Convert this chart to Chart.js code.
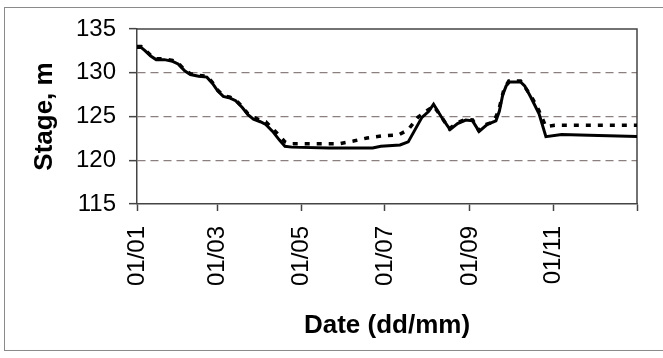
<!DOCTYPE html>
<html>
<head>
<meta charset="utf-8">
<script src="https://cdn.jsdelivr.net/npm/chart.js@4/dist/chart.umd.min.js"></script>
<style>
  html, body { margin: 0; padding: 0; background: #fff; }
  #wrap { position: relative; width: 663px; height: 358px; }
  #frame { position: absolute; left: 4px; top: 7px; width: 665px; height: 344px; border: 1.5px solid #8a8a8a; box-sizing: border-box; }
  canvas { position: absolute; left: 0; top: 0; }
</style>
</head>
<body>
<div id="wrap">
  <div id="frame"></div>
  <canvas id="chart" width="663" height="358"></canvas>
</div>
<script>
// day of year -> stage (m)
const obsDays = [0, 3, 6, 10, 14, 20, 26, 30, 35, 39, 45, 51, 55, 59, 63, 68, 72, 77, 81, 85, 90, 94, 99, 104, 108, 113, 140, 172, 178, 192, 198, 203, 208, 213, 216.5, 222, 228.5, 234, 240, 245, 249.7, 255.8, 262, 264.5, 267, 269.5, 272, 280, 283, 287.5, 293.5, 298.5, 310, 330, 365];
const obsStage = [132.9, 132.9, 132.5, 131.9, 131.5, 131.5, 131.3, 131.0, 130.2, 129.8, 129.6, 129.5, 128.8, 127.9, 127.3, 127.1, 126.8, 126.0, 125.2, 124.7, 124.4, 124.1, 123.3, 122.3, 121.6, 121.5, 121.4, 121.4, 121.6, 121.75, 122.1, 123.5, 124.9, 125.6, 126.4, 125.0, 123.5, 124.2, 124.6, 124.5, 123.3, 124.1, 124.5, 125.6, 127.5, 128.5, 128.95, 128.95, 128.5, 127.2, 125.3, 122.7, 122.95, 122.85, 122.7];

const simDays = [0, 3, 6, 10, 14, 20, 26, 30, 35, 39, 45, 51, 55, 59, 63, 68, 72, 77, 81, 85, 90, 94, 99, 104, 108, 111, 148, 158, 168, 180, 191, 198, 205, 211, 216.5, 222, 228, 234, 240, 245, 249.5, 255, 260.5, 264, 268, 271.4, 280, 287.5, 293.3, 298.5, 305, 365];
const simStage = [133.0, 133.0, 132.6, 132.0, 131.6, 131.6, 131.4, 131.1, 130.3, 129.9, 129.7, 129.6, 128.9, 128.0, 127.4, 127.2, 126.9, 126.1, 125.3, 124.9, 124.6, 124.4, 123.6, 122.8, 122.1, 121.9, 121.9, 122.2, 122.55, 122.8, 122.9, 123.5, 124.9, 125.6, 126.2, 125.0, 123.6, 124.3, 124.7, 124.6, 123.4, 124.1, 124.4, 125.7, 128.2, 129.05, 129.05, 127.4, 125.7, 123.85, 124.0, 124.0];

const tickDays = [0, 59, 120, 181, 243, 304, 365];
const tickLabels = ['01/01', '01/03', '01/05', '01/07', '01/09', '01/11', ''];
const yTicks = [115, 120, 125, 130, 135];

const toPoints = (xs, ys) => xs.map((x, i) => ({ x: x, y: ys[i] }));

// plot area frame (top and right edges)
const plotFrame = {
  id: 'plotFrame',
  beforeDatasetsDraw(chart) {
    const { ctx, chartArea: a } = chart;
    ctx.save();
    ctx.strokeStyle = '#444';
    ctx.lineWidth = 1.5;
    ctx.beginPath();
    ctx.moveTo(a.left, a.top);
    ctx.lineTo(a.right, a.top);
    ctx.lineTo(a.right, a.bottom);
    ctx.stroke();
    ctx.restore();
  }
};

new Chart(document.getElementById('chart'), {
  type: 'line',
  data: {
    datasets: [
      {
        label: 'Observed',
        data: toPoints(obsDays, obsStage),
        borderColor: '#000',
        borderWidth: 3,
        pointRadius: 0,
        tension: 0,
        order: 1
      },
      {
        label: 'Simulated',
        data: toPoints(simDays, simStage),
        borderColor: '#000',
        borderWidth: 3.5,
        borderDash: [5, 7],
        borderCapStyle: 'butt',
        pointRadius: 0,
        tension: 0,
        order: 2
      }
    ]
  },
  options: {
    responsive: false,
    animation: false,
    layout: { padding: { left: 0, right: 26, top: 29, bottom: 0 } },
    plugins: { legend: { display: false }, tooltip: { enabled: false } },
    scales: {
      x: {
        type: 'linear',
        min: 0,
        max: 365,
        afterFit: s => { s.height = 154; s.paddingRight = 0; s.paddingLeft = 0; },
        afterBuildTicks: s => { s.ticks = tickDays.map(v => ({ value: v })); },
        grid: { drawOnChartArea: false, tickLength: 7, tickColor: '#444', tickWidth: 1.5 },
        border: { color: '#444', width: 1.5 },
        ticks: {
          autoSkip: false,
          minRotation: 90,
          maxRotation: 90,
          padding: 15,
          color: '#000',
          font: { family: 'Liberation Sans', size: 24 },
          callback: (v, i) => tickLabels[i]
        },
        title: {
          display: true,
          text: 'Date (dd/mm)',
          color: '#000',
          font: { family: 'Liberation Sans', size: 26, weight: 'bold' },
          padding: { top: 0, bottom: 17 }
        }
      },
      y: {
        min: 115,
        max: 135,
        afterFit: s => { s.width = 137; },
        afterBuildTicks: s => { s.ticks = yTicks.map(v => ({ value: v })); },
        grid: {
          color: c => (c.tick && c.tick.value > 115 && c.tick.value < 135) ? '#8c7f7f' : 'rgba(0,0,0,0)',
          lineWidth: 1.3,
          tickLength: 8,
          tickColor: '#444',
          tickWidth: 1.5
        },
        border: { color: '#444', width: 1.5, dash: [8, 5] },
        ticks: {
          padding: 13,
          color: '#000',
          font: { family: 'Liberation Sans', size: 24 }
        },
        title: {
          display: true,
          text: 'Stage, m',
          color: '#000',
          font: { family: 'Liberation Sans', size: 26, weight: 'bold' },
          padding: { top: 29, bottom: 0 }
        }
      }
    }
  },
  plugins: [plotFrame]
});
</script>
</body>
</html>
